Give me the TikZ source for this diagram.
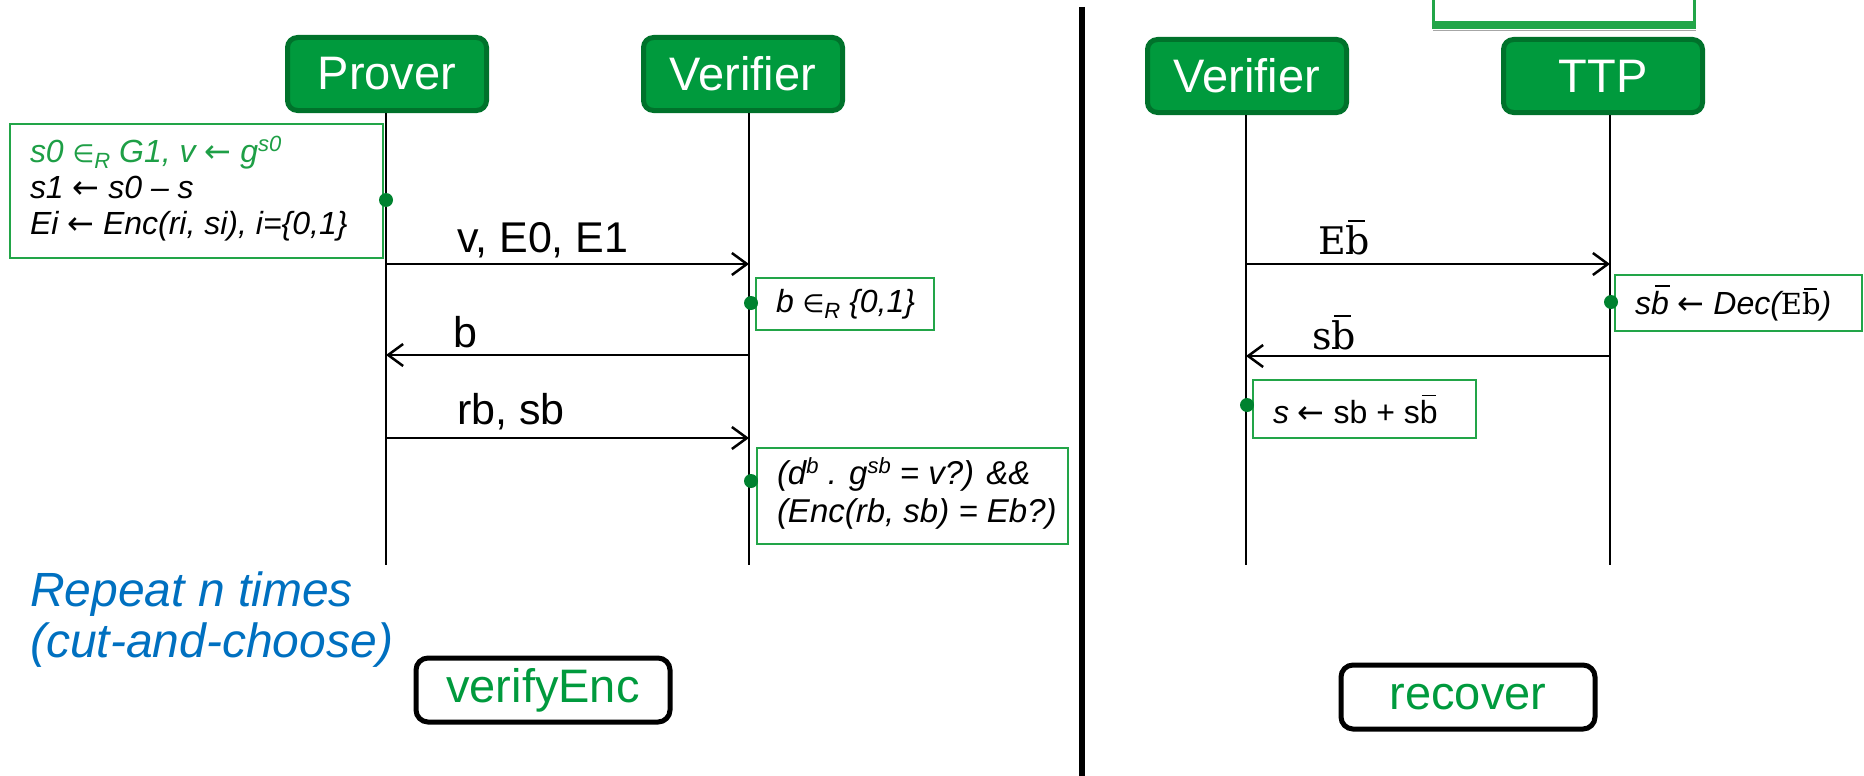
\documentclass[tikz,border=0pt]{standalone}
\usepackage{fontspec}
\setmainfont{Liberation Sans}
\newfontfamily\symfont{DejaVu Sans}
\newfontfamily\serf{DejaVu Serif}
\usetikzlibrary{arrows.meta}

\definecolor{hdrfill}{HTML}{009A3D}
\definecolor{hdrline}{HTML}{00722B}
\definecolor{notegreen}{HTML}{22A548}
\definecolor{dotgreen}{HTML}{00822F}
\definecolor{txtgreen}{HTML}{1E9F46}
\definecolor{fngreen}{HTML}{009A3D}
\definecolor{repblue}{HTML}{0070C0}

% sizes are in pt; the picture unit is 1pt
\newcommand{\fsz}[1]{\fontsize{#1}{#1}\selectfont}
\newcommand{\la}{{\symfont\upshape ←}}
\newcommand{\upx}[1]{\raisebox{11pt}{\fsz{22}#1}}
\newcommand{\dnx}[1]{\raisebox{-6pt}{\fsz{22}#1}}
\newcommand{\inR}{{\symfont\upshape\fsz{25}∈}\dnx{R}}
% letter b with a bar over it (#1 shifts the bar for slanted type)
\newcommand{\barb}[1]{\hbox{\rlap{\hspace{#1}\rule[0.84em]{0.44em}{0.055em}}b}}
\newcommand{\bb}{\barb{0.06em}}
\newcommand{\bbi}{\barb{0.14em}}
\newcommand{\Eb}{{\serf\upshape E\barb{0.06em}}}
\newcommand{\sbm}{{\serf\upshape s\barb{0.06em}}}

\begin{document}
\begin{tikzpicture}[x=1pt,y=-1pt,
  hdr/.style={draw=hdrline, fill=hdrfill, line width=5pt, rounded corners=10pt,
    text=white, font=\fsz{47}, minimum width=199pt, minimum height=73pt, inner sep=0pt},
  lifeline/.style={line width=2pt, black},
  msg/.style={line width=2.5pt, -{Straight Barb[length=15pt, width=22pt, line width=2.5pt]}},
  notebox/.style={draw=notegreen, line width=2pt, fill=white, anchor=west,
    inner xsep=20pt, inner ysep=0pt, font=\fontsize{32}{36}\selectfont\itshape},
  dot/.style={circle, fill=dotgreen, inner sep=0pt, minimum size=14pt},
  lbl/.style={anchor=base west, inner sep=0pt, font=\fsz{43}},
  slbl/.style={anchor=base west, inner sep=0pt, font=\fsz{38}},
  rep/.style={anchor=base west, inner sep=0pt, text=repblue, font=\fsz{48}\itshape},
  fnbox/.style={draw=black, line width=5pt, rounded corners=12pt, text=fngreen,
    font=\fsz{47}, minimum width=254pt, minimum height=64pt, inner sep=0pt}]
\useasboundingbox (0,0) rectangle (1864,776);

% separator between the two protocols
\draw[line width=6.5pt] (1082,7) -- (1082,776);

% box cut at the top edge
\fill[notegreen] (1432,-5) rectangle (1696,29);
\fill[white] (1435,-5) rectangle (1693,21);
\draw[black!35, line width=1.5pt] (1433,30.5) -- (1696,30.5);

% participants
\node[hdr] (prover) at (387,74) {Prover};
\node[hdr] (verL) at (743,74) {Verifier};
\node[hdr] (verR) at (1247,76) {Verifier};
\node[hdr] (ttp) at (1603,76) {TTP};

% lifelines
\coordinate (Pend) at (386,565);
\coordinate (VLend) at (749,565);
\coordinate (VRend) at (1246,565);
\coordinate (Tend) at (1610,565);
\draw[lifeline] (prover.south -| Pend) -- (Pend);
\draw[lifeline] (verL.south -| VLend) -- (VLend);
\draw[lifeline] (verR.south -| VRend) -- (VRend);
\draw[lifeline] (ttp.south -| Tend) -- (Tend);

% verifyEnc messages
\coordinate (m1p) at (386,264); \coordinate (m1v) at (749,264);
\coordinate (m2v) at (749,355); \coordinate (m2p) at (386,355);
\coordinate (m3p) at (386,438); \coordinate (m3v) at (749,438);
\draw[msg] (m1p) -- (m1v);
\draw[msg] (m2v) -- (m2p);
\draw[msg] (m3p) -- (m3v);
\node[lbl] (l1) at (457,252) {v, E0, E1};
\node[lbl] (l2) at (453,347) {b};
\node[lbl] (l3) at (457,424) {rb, sb};

% recover messages
\coordinate (r1v) at (1246,264); \coordinate (r1t) at (1610,264);
\coordinate (r2t) at (1610,356); \coordinate (r2v) at (1246,356);
\draw[msg] (r1v) -- (r1t);
\draw[msg] (r2t) -- (r2v);
\node[slbl] (l4) at (1318,254) {\Eb};
\node[slbl] (l5) at (1312,349) {\sbm};

% local computations
\node[notebox, minimum width=373pt, minimum height=134pt] (n1) at (9,191)
  {\makebox[333pt][l]{\begin{tabular}{@{}l@{}}
   \color{txtgreen}s0 \inR{} G1, v \la{} g\upx{s0}\\
   s1 \la{} s0 – s\\
   Ei \la{} Enc(ri, si), i=\{0,1\}
   \end{tabular}}};
\node[notebox, minimum width=178pt, minimum height=52pt] (n2) at (755,304)
  {\makebox[138pt][l]{b \inR{} \{0,1\}}};
\node[notebox, minimum width=311pt, minimum height=96pt,
  font=\fontsize{33}{38}\selectfont\itshape] (n3) at (756,496)
  {\makebox[271pt][l]{\begin{tabular}{@{}l@{}}
   (d\upx{b} . g\upx{sb} = v?) \&\&\\
   (Enc(rb, sb) = Eb?)
   \end{tabular}}};
\node[notebox, minimum width=247pt, minimum height=56pt] (n4) at (1614,303)
  {\makebox[207pt][l]{s\bbi{} \la{} Dec({\fsz{29}\Eb})}};
\node[notebox, minimum width=223pt, minimum height=58pt] (n5) at (1252,409)
  {\makebox[183pt][l]{s \la{} {\upshape sb + s\bb}}};

% activation points on the lifelines
\node[dot] (d1) at (386,200) {};
\node[dot] (d2) at (751,303) {};
\node[dot] (d3) at (751,481) {};
\node[dot] (d4) at (1611,302) {};
\node[dot] (d5) at (1247,405) {};

% captions
\node[rep] (rep1) at (30,606) {Repeat n times};
\node[rep] (rep2) at (30,657) {(cut-and-choose)};
\node[fnbox] (fnA) at (543,690) {verifyEnc};
\node[fnbox] (fnB) at (1468,697) {recover};
\end{tikzpicture}
\end{document}
